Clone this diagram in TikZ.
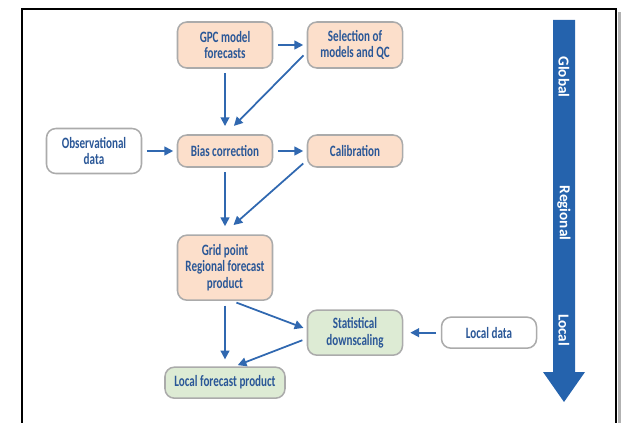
\documentclass[tikz,border=0pt]{standalone}
\usepackage{fontspec}
\setmainfont{Carlito}
\newfontfamily\boxfont{Carlito}[FakeStretch=0.7]
\usepackage{xcolor}
\usetikzlibrary{arrows.meta,positioning}
\definecolor{peach}{HTML}{FCDFCB}
\definecolor{mint}{HTML}{DDEBD4}
\definecolor{boxgray}{HTML}{ABABAB}
\definecolor{textblue}{HTML}{2A5797}
\definecolor{arrowblue}{HTML}{3068B0}
\definecolor{bigblue}{HTML}{2563AD}

\begin{document}
\begin{tikzpicture}[x=0.03cm,y=-0.03cm,node distance=3.9cm,on grid,
	box/.style={draw=boxgray,line width=1.3pt,rounded corners=8pt,minimum width=2.85cm,minimum height=0.96cm,align=center,inner sep=2pt,text=textblue,font=\boxfont\bfseries\fontsize{13.5}{14}\selectfont},
	model/.style={box,fill=peach},
	local/.style={box,fill=mint},
	input/.style={box,fill=white},
	flow/.style={-{Triangle[length=7.5pt,width=7.5pt]},color=arrowblue,line width=1.5pt,shorten >=3pt,shorten <=4pt},
	scale label/.style={rotate=-90,text=white,font=\bfseries\fontsize{13}{13}\selectfont}]
		\useasboundingbox (0,0) rectangle (622,422);
		\fill[black!30] (617.5,12) rectangle (621,430);
		\draw[line width=1.7pt] (22,430) -- (22,9) -- (616,9) -- (616,430);
		
		\node[model,minimum height=1.38cm] (gpc) at (225,45) {GPC model\\forecasts};
		\node[model,minimum height=1.38cm] (sel) [right=of gpc] {Selection of\\models and QC};
		\node[model] (bias) [below=3.18cm of gpc] {Bias correction};
		\node[input,minimum height=1.35cm] (obs) [left=3.93cm of bias] {Observational\\data};
		\node[model] (calib) [right=of bias] {Calibration};
		\node[model,minimum height=1.95cm] (grid) [below=3.5cm of bias] {Grid point\\Regional forecast\\product};
		
		\node[local,minimum height=1.35cm] (stat) [below right=1.95cm and 3.9cm of grid] {Statistical\\downscaling};
		\node[local,minimum width=3.6cm,minimum height=0.93cm] (lfp) [below=3.45cm of grid] {Local forecast product};
		\node[input,minimum height=0.93cm] (ldata) [right=4.02cm of stat] {Local data};
		
		\path[flow]
		(gpc) edge (sel)
			  edge[shorten >=7pt] (bias)
		([yshift=-6pt]sel.west) edge ([xshift=5.5pt,yshift=5pt]bias.north)
		
		(obs) edge (bias)
		(bias) edge (calib)
			   edge[shorten >=7pt] (grid)
		([yshift=-8pt]calib.west) edge ([xshift=5pt,yshift=6pt]grid.north)
		
		([xshift=6pt]grid.south) edge ([yshift=3pt]stat.west)
		(grid) edge[shorten >=6pt] (lfp)
		([yshift=-5pt]stat.west) edge ([xshift=8pt]lfp.north)
		
		(ldata) edge[shorten >=6pt] (stat);
		
		\fill[bigblue] (553,20) -- (575,20) -- (575,372) -- (585,372) -- (564,402) -- (543,372) -- (553,372) -- cycle;
		\node[scale label] (global) at (564,77) {Global};
		\node[scale label] (regional) at (564,213) {Regional};
		\node[scale label] (local) at (564,330) {Local};
	\end{tikzpicture}
\end{document}
